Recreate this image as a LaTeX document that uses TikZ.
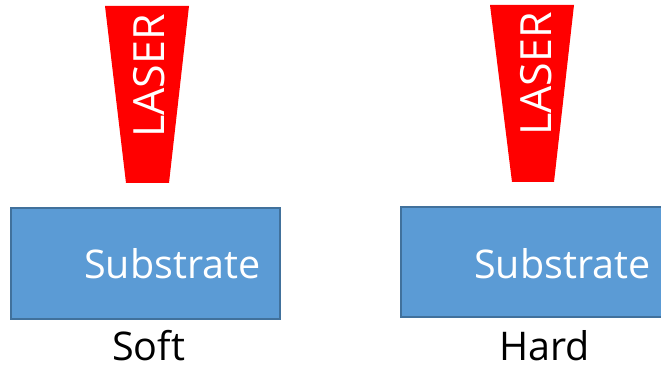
\documentclass[tikz,border=0pt]{standalone}
\usepackage{fontspec}
\setmainfont{Open Sans}
\definecolor{laserred}{HTML}{FF0000}
\definecolor{subfill}{HTML}{5B9BD5}
\definecolor{subdraw}{HTML}{41719C}
\begin{document}
\begin{tikzpicture}[x=1pt,y=-1pt,
  laser/.style={fill=laserred,draw=none},
  substrate/.style={fill=subfill,draw=subdraw,line width=1.5pt},
  ltext/.style={text=white,font=\fontsize{43}{43}\selectfont,inner sep=0pt,rotate=90,anchor=base west},
  stext/.style={text=white,font=\fontsize{39.5}{40}\selectfont,inner sep=0pt,anchor=base west},
  label/.style={text=black,font=\fontsize{39.5}{40}\selectfont,inner sep=0pt,anchor=base west}]
\useasboundingbox (0,0) rectangle (661,366);
\begin{scope}
\clip (0,0) rectangle (661,366);
% left
\path[laser] (105,6) -- (189,6) -- (169,183) -- (126,183) -- cycle;
\node[ltext] (laser1) at (164,138) {LASER};
\draw[substrate] (11,208) rectangle (280,319);
\node[stext] (sub1) at (84,278) {Substrate};
\node[label] (soft) at (112,360) {Soft};
% right
\path[laser] (490,5) -- (574,5) -- (554,182) -- (512,182) -- cycle;
\node[ltext] (laser2) at (551,136) {LASER};
\draw[substrate] (401,207) rectangle (672,317);
\node[stext] (sub2) at (474,278) {Substrate};
\node[label] (hard) at (499,360) {Hard};
\end{scope}
\end{tikzpicture}
\end{document}
